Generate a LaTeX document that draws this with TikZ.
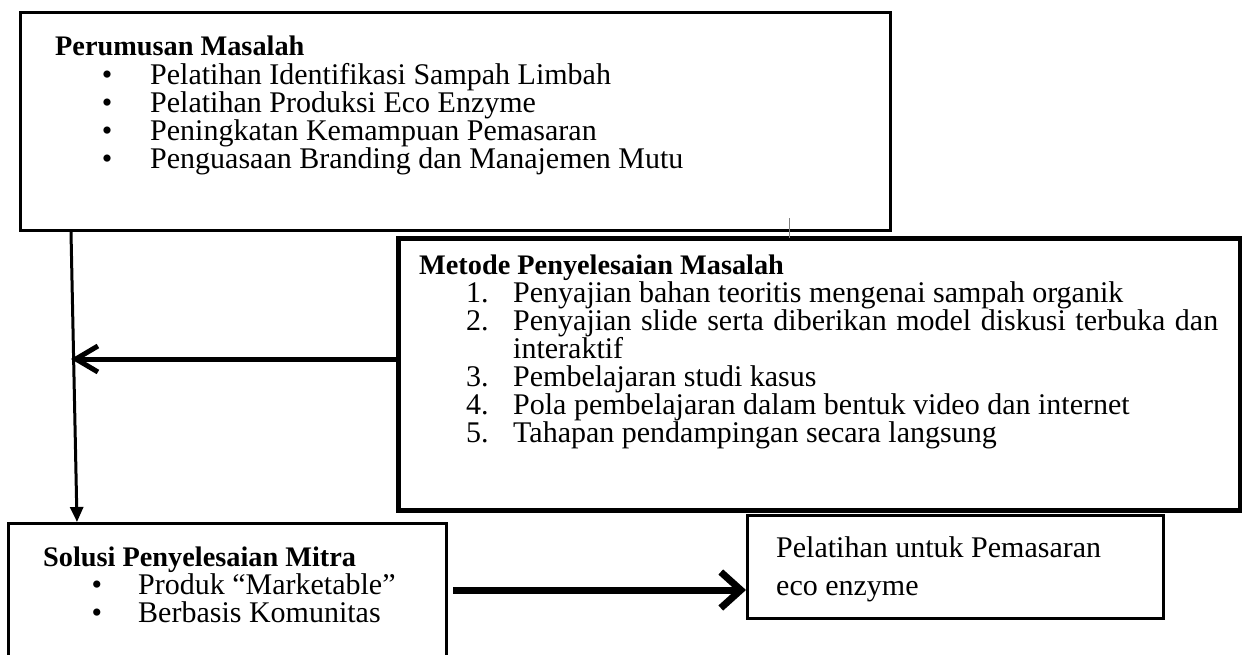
\documentclass[tikz,border=0pt]{standalone}
\usepackage{fontspec}
\setmainfont{Liberation Serif}
\usetikzlibrary{arrows.meta,calc}
\newcommand{\fsz}{\fontsize{30}{32}\selectfont}
\newcommand{\tsz}{\fontsize{28.3}{32}\selectfont}
\tikzset{
  box/.style={draw=black, line width=3pt, rectangle, inner sep=0pt, anchor=north west},
  txt/.style={anchor=base west, inner sep=0pt, font=\fsz},
  ttl/.style={anchor=base west, inner sep=0pt, font=\tsz\bfseries},
  bul/.style={anchor=base, inner sep=0pt, font=\fsz},
  num/.style={anchor=base west, inner sep=0pt, font=\fsz},
}
\begin{document}
\begin{tikzpicture}[x=1pt,y=-1pt]
\useasboundingbox (0,0) rectangle (1242,654);
\clip (0,0) rectangle (1242,654);
\fill[white] (0,0) rectangle (1242,654);

% boxes
\node[box, minimum width=870pt, minimum height=218pt] (b1) at (19,11) {};
\node[box, line width=5pt, minimum width=842pt, minimum height=272pt] (b2) at (396,236) {};
\node[box, minimum width=438pt, minimum height=160pt] (b3) at (7,522) {};
\node[box, minimum width=416pt, minimum height=103pt] (b4) at (746,514) {};

% gray tick
\coordinate (tkA) at ($(b1.south west)+(770,-14)$);
\coordinate (tkB) at ($(b1.south west)+(770,6)$);
\draw[gray, line width=1pt] (tkA) -- (tkB);

% box 1 text
\node[ttl] (t1) at (55,55) {Perumusan Masalah};
\node[bul] (p1a) at (107,84) {\textbullet};
\node[txt] (i1a) at (150,84) {Pelatihan Identifikasi Sampah Limbah};
\node[bul] (p1b) at (107,112) {\textbullet};
\node[txt] (i1b) at (150,112) {Pelatihan Produksi Eco Enzyme};
\node[bul] (p1c) at (107,140) {\textbullet};
\node[txt] (i1c) at (150,140) {Peningkatan Kemampuan Pemasaran};
\node[bul] (p1d) at (107,168) {\textbullet};
\node[txt] (i1d) at (150,168) {Penguasaan Branding dan Manajemen Mutu};

% box 2 text
\node[ttl] (t2) at (419,274) {Metode Penyelesaian Masalah};
\node[num] (n1) at (466,302) {1.};
\node[txt] (m1) at (513,302) {Penyajian bahan teoritis mengenai sampah organik};
\node[num] (n2) at (466,330) {2.};
\node[txt] (m2) at (513,330) {\makebox[705pt][s]{Penyajian slide serta diberikan model diskusi terbuka dan}};
\node[txt] (m2b) at (513,358) {interaktif};
\node[num] (n3) at (466,386) {3.};
\node[txt] (m3) at (513,386) {Pembelajaran studi kasus};
\node[num] (n4) at (466,414) {4.};
\node[txt] (m4) at (513,414) {Pola pembelajaran dalam bentuk video dan internet};
\node[num] (n5) at (466,442) {5.};
\node[txt] (m5) at (513,442) {Tahapan pendampingan secara langsung};

% box 3 text
\node[ttl] (t3) at (43,566) {Solusi Penyelesaian Mitra};
\node[bul] (p3a) at (97,594) {\textbullet};
\node[txt] (s1) at (138,594) {Produk “Marketable”};
\node[bul] (p3b) at (97,622) {\textbullet};
\node[txt] (s2) at (138,622) {Berbasis Komunitas};

% box 4 text
\node[txt] (q1) at (776,557) {Pelatihan untuk Pemasaran};
\node[txt] (q2) at (776,595) {eco enzyme};

% connectors
\draw[line width=3pt, -{Triangle[length=15pt,width=13pt]}]
  ($(b1.south west)+(52,0)$) -- ($(b3.north west)+(70,0)$);
\coordinate (vl) at (71,359);
\draw[line width=5pt, line cap=round, -{Straight Barb[length=22pt,width=26pt]}]
  ($(b2.north west)+(0,123)$) -- (vl);
\draw[line width=7pt, -{Straight Barb[length=20pt,width=36pt]}]
  ($(b3.north east)+(5,68)$) -- ($(b4.north west)+(0,76)$);
\end{tikzpicture}
\end{document}
